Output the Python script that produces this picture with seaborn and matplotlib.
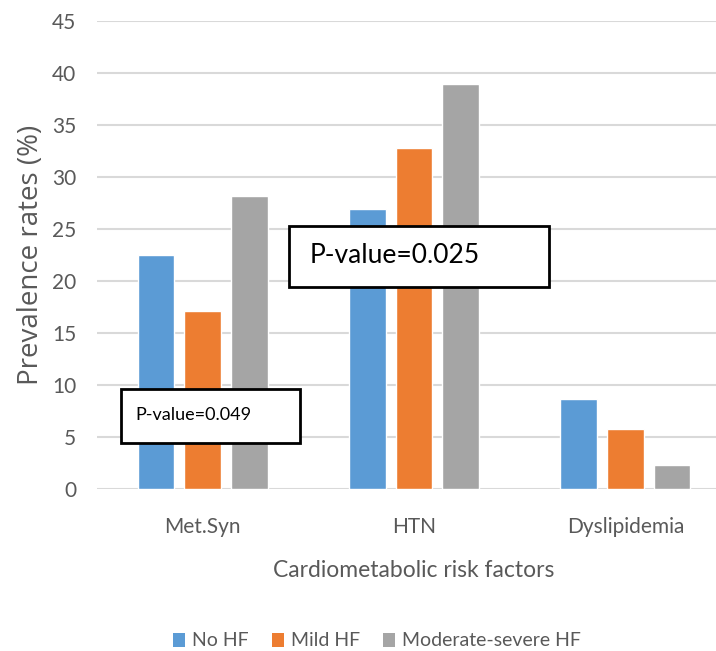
import matplotlib
matplotlib.use("Agg")
import matplotlib.pyplot as plt
import seaborn as sns
import pandas as pd
from matplotlib.patches import Patch, Rectangle

categories = ["Met.Syn", "HTN", "Dyslipidemia"]
series = ["No HF", "Mild HF", "Moderate-severe HF"]
no_hf = [22.5, 26.9, 8.7]
mild_hf = [17.1, 32.8, 5.8]
mod_sev_hf = [28.2, 38.9, 2.3]
colors = ["#5B9BD5", "#ED7D31", "#A5A5A5"]
yticks = [0, 5, 10, 15, 20, 25, 30, 35, 40, 45]

rows = []
for s, vals in zip(series, [no_hf, mild_hf, mod_sev_hf]):
    for c, v in zip(categories, vals):
        rows.append({"Risk": c, "Group": s, "Value": v})
df = pd.DataFrame(rows)

sns.set_style("white")
plt.rcParams["font.family"] = ["Lato", "DejaVu Sans"]
txt = "#595959"

fig = plt.figure(figsize=(7.16, 6.51), dpi=100)
ax = fig.add_axes([97/716, (651-489)/651, (731-97)/716, (489-21)/651])
sns.barplot(data=df, x="Risk", y="Value", hue="Group", order=categories,
            hue_order=series, palette=colors, width=0.663, gap=0.21,
            saturation=1, ax=ax, legend=False, zorder=3)
ax.set_xlim(-0.5, 2.5)
ax.set_ylim(0, 45)
ax.set_yticks(yticks)
ax.yaxis.grid(True, color="#D9D9D9", linewidth=1.5, zorder=0)
ax.set_axisbelow(True)
for sp in ax.spines.values():
    sp.set_visible(False)
ax.tick_params(axis="both", length=0, labelsize=15, colors=txt)
ax.tick_params(axis="y", pad=15)
ax.tick_params(axis="x", pad=20)
ax.set_xlabel("Cardiometabolic risk factors", fontsize=16.5, color=txt, labelpad=17)
ax.set_ylabel("Prevalence rates (%)", fontsize=20, color=txt,
              family=["Open Sans", "DejaVu Sans"])
ax.yaxis.set_label_coords(-0.082, 0.5)

# annotation boxes
def box(x0, y0, x1, y1, text, size, off):
    fig.patches.append(Rectangle((x0/716, 1-y1/651), (x1-x0)/716, (y1-y0)/651,
                                 transform=fig.transFigure, facecolor="white",
                                 edgecolor="black", linewidth=2, zorder=5))
    fig.text((x0 + off)/716, 1-((y0+y1)/2 - 1)/651, text, fontsize=size,
             color="black", va="center", ha="left", zorder=6)

box(121, 389, 300, 443, "P-value=0.049", 13, 14)
box(289, 226, 549, 287, "P-value=0.025", 19, 21)

handles = [Patch(facecolor=c, edgecolor="none") for c in colors]
fig.legend(handles, series, loc="center", bbox_to_anchor=(377/716, 1-641/651),
           ncol=3, frameon=False, fontsize=14, handlelength=0.62, handleheight=0.75,
           handletextpad=0.35, columnspacing=1.2, labelcolor=txt)

fig.savefig("out.png", dpi=100)
